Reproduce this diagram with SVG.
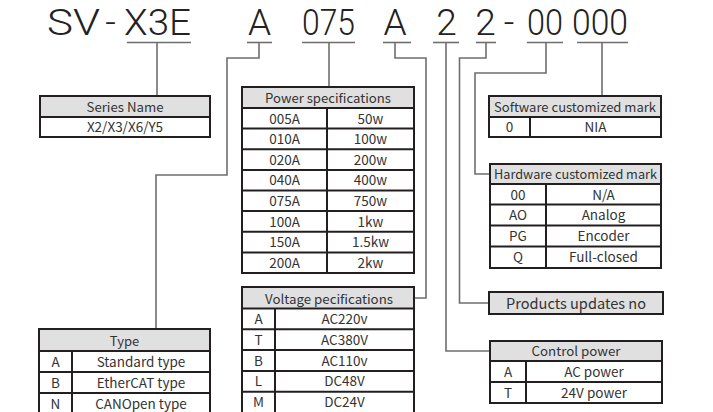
<svg xmlns="http://www.w3.org/2000/svg" width="713" height="412" viewBox="0 0 713 412">
<style>
text{font-family:"Noto Sans CJK SC","Noto Sans",sans-serif;fill:#333}
.t{font-family:Roboto,"Liberation Sans",sans-serif;font-weight:300;font-size:37px;fill:#222}
.c{font-size:13.5px;text-anchor:middle}
.h{font-size:13px;text-anchor:middle}
.p{font-size:14.5px;text-anchor:middle}
.hd{fill:#e0e0e0;stroke:none}
.bx{fill:none;stroke:#231f20;stroke-width:2}
.ln{stroke:#231f20;stroke-width:2}
.cn{fill:none;stroke:#6e6e6e;stroke-width:1.6}
</style>
<rect width="713" height="412" fill="#fff"/>
<g id="title">
<text class="t" x="47" y="35" textLength="53" lengthAdjust="spacingAndGlyphs">SV</text>
<text class="t" x="110.5" y="35" text-anchor="middle">-</text>
<text class="t" x="124" y="35" textLength="67" lengthAdjust="spacingAndGlyphs">X3E</text>
<text class="t" x="259.5" y="35" text-anchor="middle">A</text>
<text class="t" x="302" y="35" textLength="53" lengthAdjust="spacingAndGlyphs">075</text>
<text class="t" x="395" y="35" text-anchor="middle">A</text>
<text class="t" x="446.5" y="35" text-anchor="middle">2</text>
<text class="t" x="485.5" y="35" text-anchor="middle">2</text>
<text class="t" x="509" y="35" text-anchor="middle">-</text>
<text class="t" x="527" y="35" textLength="36" lengthAdjust="spacingAndGlyphs">00</text>
<text class="t" x="572" y="35" textLength="56" lengthAdjust="spacingAndGlyphs">000</text>
</g>
<g id="connectors">
<line class="cn" x1="127" y1="42.5" x2="191" y2="42.5"/>
<line class="cn" x1="157" y1="42.5" x2="157" y2="96"/>
<line class="cn" x1="247" y1="42.5" x2="272" y2="42.5"/>
<polyline class="cn" points="259,42.5 259,58 227,58 227,175 156,175 156,329"/>
<line class="cn" x1="302" y1="42.5" x2="355" y2="42.5"/>
<line class="cn" x1="329" y1="42.5" x2="329" y2="87"/>
<line class="cn" x1="383" y1="42.5" x2="411" y2="42.5"/>
<polyline class="cn" points="395,42.5 395,58 426,58 426,298 414,298"/>
<line class="cn" x1="433" y1="42.5" x2="459" y2="42.5"/>
<polyline class="cn" points="446,42.5 446,351 490,351"/>
<line class="cn" x1="476" y1="42.5" x2="496" y2="42.5"/>
<polyline class="cn" points="486,42.5 486,58 459.5,58 459.5,303 489,303"/>
<line class="cn" x1="527" y1="42.5" x2="563" y2="42.5"/>
<polyline class="cn" points="546,42.5 546,73 475,73 475,174 490,174"/>
<line class="cn" x1="577" y1="42.5" x2="628" y2="42.5"/>
<line class="cn" x1="602" y1="42.5" x2="602" y2="96"/>
</g>
<g id="series">
<rect class="hd" x="40" y="96" width="170" height="21"/>
<rect class="bx" x="40" y="96" width="170" height="41"/>
<line class="ln" x1="40" y1="117" x2="210" y2="117"/>
<text class="h" x="125" y="112" textLength="77" lengthAdjust="spacingAndGlyphs">Series Name</text>
<text class="c" x="125" y="132">X2/X3/X6/Y5</text>
</g>
<g id="power">
<rect class="hd" x="242" y="87" width="172" height="21"/>
<rect class="bx" x="242" y="87" width="172" height="186"/>
<line class="ln" x1="242" y1="108" x2="414" y2="108"/>
<line class="ln" x1="242" y1="128.6" x2="414" y2="128.6"/>
<line class="ln" x1="242" y1="149.2" x2="414" y2="149.2"/>
<line class="ln" x1="242" y1="169.9" x2="414" y2="169.9"/>
<line class="ln" x1="242" y1="190.5" x2="414" y2="190.5"/>
<line class="ln" x1="242" y1="211.1" x2="414" y2="211.1"/>
<line class="ln" x1="242" y1="231.8" x2="414" y2="231.8"/>
<line class="ln" x1="242" y1="252.4" x2="414" y2="252.4"/>
<line class="ln" x1="327" y1="108" x2="327" y2="273"/>
<text class="h" x="328" y="103" textLength="126" lengthAdjust="spacingAndGlyphs">Power specifications</text>
<text class="c" x="284.5" y="123.5">005A</text><text class="c" x="370.5" y="123.5">50w</text>
<text class="c" x="284.5" y="144.1">010A</text><text class="c" x="370.5" y="144.1">100w</text>
<text class="c" x="284.5" y="164.7">020A</text><text class="c" x="370.5" y="164.7">200w</text>
<text class="c" x="284.5" y="185.4">040A</text><text class="c" x="370.5" y="185.4">400w</text>
<text class="c" x="284.5" y="206">075A</text><text class="c" x="370.5" y="206">750w</text>
<text class="c" x="284.5" y="226.6">100A</text><text class="c" x="370.5" y="226.6">1kw</text>
<text class="c" x="284.5" y="247.3">150A</text><text class="c" x="370.5" y="247.3">1.5kw</text>
<text class="c" x="284.5" y="267.9">200A</text><text class="c" x="370.5" y="267.9">2kw</text>
</g>
<g id="voltage">
<rect class="hd" x="242" y="287" width="172" height="21.5"/>
<rect class="bx" x="242" y="287" width="172" height="128"/>
<line class="ln" x1="242" y1="308.5" x2="414" y2="308.5"/>
<line class="ln" x1="242" y1="329.3" x2="414" y2="329.3"/>
<line class="ln" x1="242" y1="350.1" x2="414" y2="350.1"/>
<line class="ln" x1="242" y1="370.9" x2="414" y2="370.9"/>
<line class="ln" x1="242" y1="391.7" x2="414" y2="391.7"/>
<line class="ln" x1="275" y1="308.5" x2="275" y2="415"/>
<text class="h" x="329" y="303.5" textLength="128" lengthAdjust="spacingAndGlyphs">Voltage pecifications</text>
<text class="c" x="258.5" y="324">A</text><text class="c" x="344.5" y="324">AC220v</text>
<text class="c" x="258.5" y="344.8">T</text><text class="c" x="344.5" y="344.8">AC380V</text>
<text class="c" x="258.5" y="365.6">B</text><text class="c" x="344.5" y="365.6">AC110v</text>
<text class="c" x="258.5" y="386.4">L</text><text class="c" x="344.5" y="386.4">DC48V</text>
<text class="c" x="258.5" y="407.2">M</text><text class="c" x="344.5" y="407.2">DC24V</text>
</g>
<g id="type">
<rect class="hd" x="39" y="329" width="171" height="22"/>
<rect class="bx" x="39" y="329" width="171" height="86"/>
<line class="ln" x1="39" y1="351" x2="210" y2="351"/>
<line class="ln" x1="39" y1="372" x2="210" y2="372"/>
<line class="ln" x1="39" y1="393" x2="210" y2="393"/>
<line class="ln" x1="72" y1="351" x2="72" y2="415"/>
<text class="h" x="124.5" y="345.5">Type</text>
<text class="c" x="55.5" y="366.5">A</text><text class="c" x="141" y="366.5">Standard type</text>
<text class="c" x="55.5" y="387.5">B</text><text class="c" x="141" y="387.5">EtherCAT type</text>
<text class="c" x="55.5" y="408.5">N</text><text class="c" x="141" y="408.5">CANOpen type</text>
</g>
<g id="software">
<rect class="hd" x="489" y="96" width="172" height="21"/>
<rect class="bx" x="489" y="96" width="172" height="41"/>
<line class="ln" x1="489" y1="117" x2="661" y2="117"/>
<line class="ln" x1="530" y1="117" x2="530" y2="137"/>
<text class="h" x="575" y="112" textLength="162" lengthAdjust="spacingAndGlyphs">Software customized mark</text>
<text class="c" x="509.5" y="132">0</text><text class="c" x="595.5" y="132">NIA</text>
</g>
<g id="hardware">
<rect class="hd" x="490" y="164" width="171" height="20"/>
<rect class="bx" x="490" y="164" width="171" height="104"/>
<line class="ln" x1="490" y1="184" x2="661" y2="184"/>
<line class="ln" x1="490" y1="204.5" x2="661" y2="204.5"/>
<line class="ln" x1="490" y1="225.5" x2="661" y2="225.5"/>
<line class="ln" x1="490" y1="246.5" x2="661" y2="246.5"/>
<line class="ln" x1="546" y1="184" x2="546" y2="268"/>
<text class="h" x="575.5" y="179" textLength="163" lengthAdjust="spacingAndGlyphs">Hardware customized mark</text>
<text class="c" x="518" y="199.5">00</text><text class="c" x="603.5" y="199.5">N/A</text>
<text class="c" x="518" y="220.3">AO</text><text class="c" x="603.5" y="220.3">Analog</text>
<text class="c" x="518" y="241.2">PG</text><text class="c" x="603.5" y="241.2">Encoder</text>
<text class="c" x="518" y="262">Q</text><text class="c" x="603.5" y="262">Full-closed</text>
</g>
<g id="products">
<rect x="489" y="292" width="174" height="22" fill="#e0e0e0" stroke="#231f20" stroke-width="2"/>
<text class="p" x="576" y="308.5" textLength="140" lengthAdjust="spacingAndGlyphs">Products updates no</text>
</g>
<g id="control">
<rect class="hd" x="490" y="341" width="172" height="20"/>
<rect class="bx" x="490" y="341" width="172" height="62"/>
<line class="ln" x1="490" y1="361" x2="662" y2="361"/>
<line class="ln" x1="490" y1="382" x2="662" y2="382"/>
<line class="ln" x1="526" y1="361" x2="526" y2="403"/>
<text class="h" x="576" y="356" textLength="89" lengthAdjust="spacingAndGlyphs">Control power</text>
<text class="c" x="508" y="376.5">A</text><text class="c" x="594" y="376.5">AC power</text>
<text class="c" x="508" y="397.5">T</text><text class="c" x="594" y="397.5">24V power</text>
</g>
</svg>
